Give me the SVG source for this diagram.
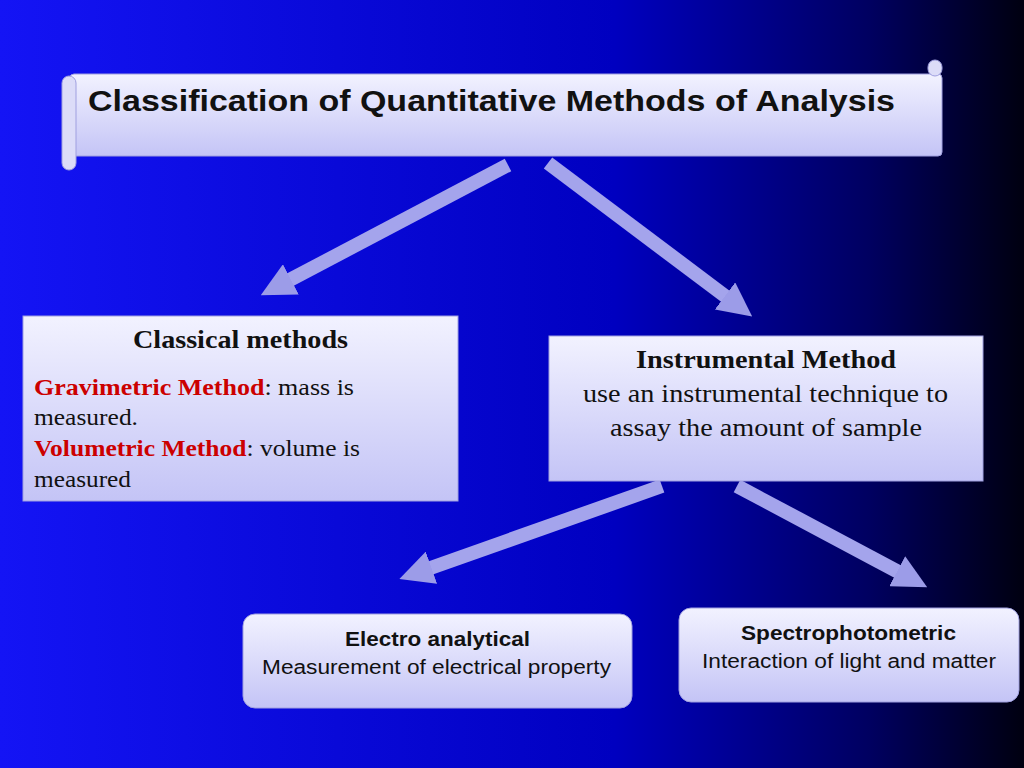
<svg xmlns="http://www.w3.org/2000/svg" width="1024" height="768" viewBox="0 0 1024 768">
<defs>
<linearGradient id="bg" x1="0" y1="0" x2="1" y2="0">
<stop offset="0" stop-color="#1414f5"/><stop offset="0.6" stop-color="#0000c0"/><stop offset="0.85" stop-color="#000060"/><stop offset="1" stop-color="#000010"/>
</linearGradient>
<linearGradient id="box" x1="0" y1="0" x2="0" y2="1">
<stop offset="0" stop-color="#f2f2ff"/><stop offset="1" stop-color="#c4c4f6"/>
</linearGradient>
<marker id="ah" markerUnits="userSpaceOnUse" markerWidth="34" markerHeight="34" refX="10" refY="17" orient="auto" viewBox="0 0 34 34">
<path d="M0,0 L34,17 L0,34 Z" fill="#9c9ce8"/>
</marker>
<style>
.b{fill:url(#box);stroke:#a0a0e0;stroke-width:1}
.a{fill:none;stroke:#a4a4ec;stroke-width:14;marker-end:url(#ah)}
.s{font-family:"Liberation Sans",Arial,sans-serif;fill:#111}
.t{font-family:"Liberation Serif","Times New Roman",serif;fill:#111}
.r{fill:#cc0000;font-weight:bold}
</style>
</defs>
<rect width="1024" height="768" fill="url(#bg)"/>
<g id="title">
<rect x="70" y="74" width="872" height="82" rx="4" class="b"/>
<rect x="62" y="76" width="14" height="94" rx="7" fill="#dcdcf8" stroke="#a0a0e0"/>
<rect x="928" y="60" width="14" height="16" rx="7" fill="#dcdcf8" stroke="#a0a0e0"/>
<text x="88" y="111" class="s" font-size="29" font-weight="bold" textLength="807" lengthAdjust="spacingAndGlyphs">Classification of Quantitative Methods of Analysis</text>
</g>
<g id="connectors">
<line x1="508" y1="165" x2="282" y2="284" class="a"/>
<line x1="548" y1="163" x2="733" y2="302" class="a"/>
<line x1="662" y1="486" x2="422" y2="571" class="a"/>
<line x1="737" y1="486" x2="906" y2="576" class="a"/>
</g>
<g id="classical">
<rect x="23" y="316" width="435" height="185" class="b"/>
<text x="133" y="348" class="t" font-size="25" font-weight="bold" textLength="215" lengthAdjust="spacingAndGlyphs">Classical methods</text>
<text x="34" y="395" class="t" font-size="23" textLength="320" lengthAdjust="spacingAndGlyphs"><tspan class="r">Gravimetric Method</tspan>:  mass is</text>
<text x="34" y="425" class="t" font-size="23" textLength="104" lengthAdjust="spacingAndGlyphs">measured.</text>
<text x="34" y="456" class="t" font-size="23" textLength="326" lengthAdjust="spacingAndGlyphs"><tspan class="r">Volumetric Method</tspan>: volume is</text>
<text x="34" y="487" class="t" font-size="23" textLength="97" lengthAdjust="spacingAndGlyphs">measured</text>
</g>
<g id="instrumental">
<rect x="549" y="336" width="434" height="145" class="b"/>
<text x="636" y="368" class="t" font-size="25" font-weight="bold" textLength="260" lengthAdjust="spacingAndGlyphs">Instrumental Method</text>
<text x="583" y="402" class="t" font-size="25" textLength="365" lengthAdjust="spacingAndGlyphs">use an instrumental technique to</text>
<text x="610" y="436" class="t" font-size="25" textLength="312" lengthAdjust="spacingAndGlyphs">assay the amount of sample</text>
</g>
<g id="electro">
<rect x="243" y="614" width="389" height="94" rx="12" class="b"/>
<text x="345" y="646" class="s" font-size="20" font-weight="bold" textLength="185" lengthAdjust="spacingAndGlyphs">Electro analytical</text>
<text x="262" y="674" class="s" font-size="20" textLength="349" lengthAdjust="spacingAndGlyphs">Measurement of electrical property</text>
</g>
<g id="spectro">
<rect x="679" y="608" width="340" height="94" rx="12" class="b"/>
<text x="741" y="640" class="s" font-size="20" font-weight="bold" textLength="215" lengthAdjust="spacingAndGlyphs">Spectrophotometric</text>
<text x="702" y="668" class="s" font-size="20" textLength="294" lengthAdjust="spacingAndGlyphs">Interaction of light and matter</text>
</g>
</svg>
